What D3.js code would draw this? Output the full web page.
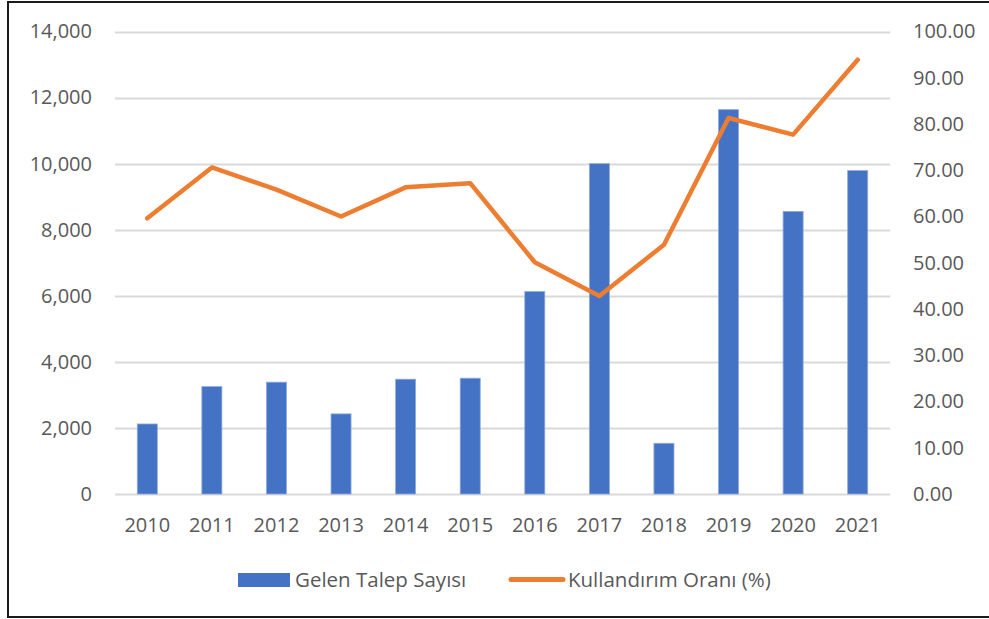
<!DOCTYPE html>
<html>
<head>
<meta charset="utf-8">
<script src="https://cdn.jsdelivr.net/npm/d3@7"></script>
<style>
  body { margin: 0; background: #fff; }
  text { font-family: "Open Sans", sans-serif; fill: #595959; }
</style>
</head>
<body>
<div id="chart"></div>
<script>
const years = ['2010', '2011', '2012', '2013', '2014', '2015', '2016', '2017', '2018', '2019', '2020', '2021'];
const requests = [2120, 3250, 3385, 2425, 3475, 3505, 6130, 10000, 1535, 11635, 8555, 9790];
const usageRate = [59.6, 70.6, 65.8, 60.0, 66.3, 67.2, 50.1, 42.8, 53.9, 81.3, 77.7, 93.9];
const leftTicks = [0, 2000, 4000, 6000, 8000, 10000, 12000, 14000];
const rightTicks = [0, 10, 20, 30, 40, 50, 60, 70, 80, 90, 100];
const seriesNames = ['Gelen Talep Sayısı', 'Kullandırım Oranı (%)'];

const W = 989, H = 619;
const plot = { left: 115, right: 890, top: 31.5, bottom: 494 };

const svg = d3.select("#chart").append("svg")
    .attr("width", W)
    .attr("height", H);

// chart frame (right edge is cut off in the reference)
svg.append("path")
    .attr("d", "M" + (W + 5) + ",2 H8 V617 H" + (W + 5))
    .style("fill", "none")
    .style("stroke", "#1a1a1a")
    .style("stroke-width", 2);

const x = d3.scaleBand()
    .domain(years)
    .range([plot.left, plot.right])
    .paddingInner(0.69)
    .paddingOuter(0.345);

const yLeft = d3.scaleLinear()
    .domain([0, 14000])
    .range([plot.bottom, plot.top]);

const yRight = d3.scaleLinear()
    .domain([0, 100])
    .range([plot.bottom, plot.top]);

// gridlines
svg.append("g")
    .selectAll("line")
    .data(leftTicks)
    .enter().append("line")
    .attr("x1", plot.left)
    .attr("x2", plot.right)
    .attr("y1", d => Math.round(yLeft(d)) + 0.5)
    .attr("y2", d => Math.round(yLeft(d)) + 0.5)
    .style("stroke", "#d9d9d9")
    .style("stroke-width", 1.8);

// left axis
const axisL = svg.append("g")
    .attr("transform", "translate(92,0)")
    .call(d3.axisLeft(yLeft).tickValues(leftTicks).tickSize(0).tickPadding(0).tickFormat(d3.format(",")));
axisL.select(".domain").remove();
axisL.selectAll("text").style("font-size", "20px").style("font-family", "Open Sans").attr("fill", "#595959");

// right axis
const axisR = svg.append("g")
    .attr("transform", "translate(913,0)")
    .call(d3.axisRight(yRight).tickValues(rightTicks).tickSize(0).tickPadding(0).tickFormat(d3.format(".2f")));
axisR.select(".domain").remove();
axisR.selectAll("text").style("font-size", "20px").style("font-family", "Open Sans").attr("fill", "#595959");

// bottom axis
const axisB = svg.append("g")
    .attr("transform", "translate(0," + plot.bottom + ")")
    .call(d3.axisBottom(x).tickSize(0).tickPadding(24));
axisB.select(".domain").remove();
axisB.selectAll("text").style("font-size", "20px").style("font-family", "Open Sans").attr("fill", "#595959");

// bars
svg.append("g")
    .selectAll("rect")
    .data(years)
    .enter().append("rect")
    .attr("x", d => x(d))
    .attr("width", x.bandwidth())
    .attr("y", (d, i) => yLeft(requests[i]))
    .attr("height", (d, i) => plot.bottom - yLeft(requests[i]))
    .style("fill", "#4472c4")
    .style("stroke", "#8faadc")
    .style("stroke-width", 0.8);

// line
const line = d3.line()
    .x((d, i) => x(years[i]) + x.bandwidth() / 2)
    .y(d => yRight(d));

svg.append("path")
    .datum(usageRate)
    .attr("d", line)
    .style("fill", "none")
    .style("stroke", "#ed7d31")
    .style("stroke-width", 4.5)
    .style("stroke-linejoin", "round")
    .style("stroke-linecap", "round");

// legend
const legend = svg.append("g").style("font-size", "20.5px");
legend.append("rect")
    .attr("x", 238).attr("y", 573)
    .attr("width", 52).attr("height", 14)
    .style("fill", "#4472c4");
legend.append("text")
    .attr("x", 295).attr("y", 587)
    .text(seriesNames[0]);
legend.append("line")
    .attr("x1", 511).attr("x2", 563)
    .attr("y1", 579.5).attr("y2", 579.5)
    .style("stroke", "#ed7d31")
    .style("stroke-width", 5)
    .style("stroke-linecap", "round");
legend.append("text")
    .attr("x", 568).attr("y", 587)
    .text(seriesNames[1]);
</script>
</body>
</html>
